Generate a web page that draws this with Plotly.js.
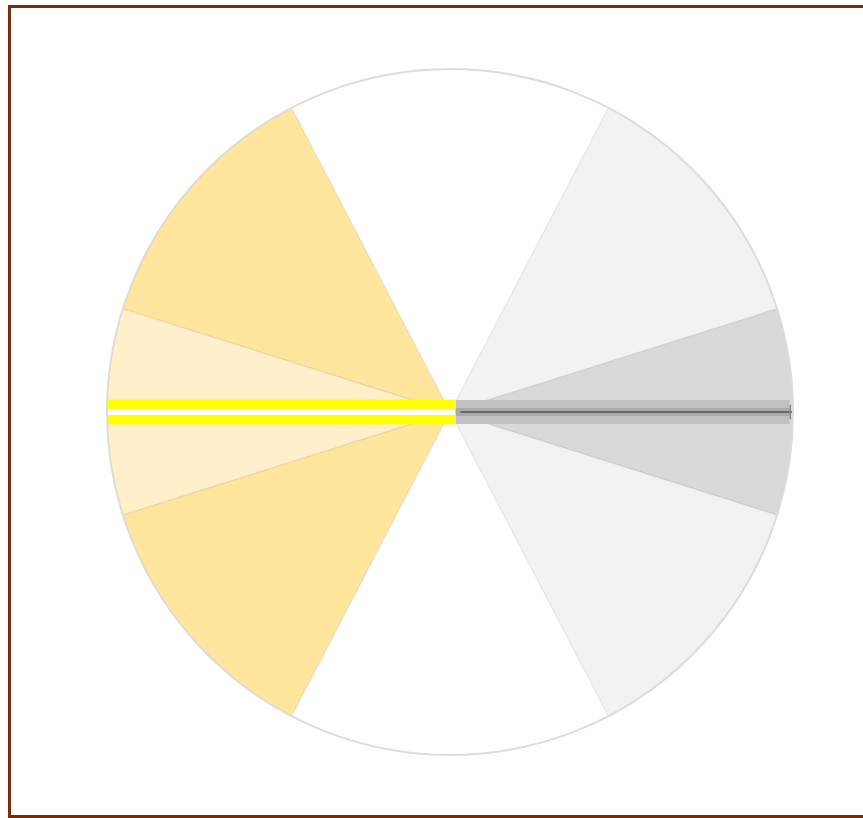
<!DOCTYPE html>
<html>
<head>
<meta charset="utf-8">
<script src="https://cdn.plot.ly/plotly-3.0.1.min.js"></script>
<style>
  html, body { margin: 0; padding: 0; background: #ffffff; overflow: hidden; }
  #chart { position: absolute; left: 0; top: 0; width: 863px; height: 818px; }
  #frame { position: absolute; left: 8px; top: 5px; width: 900px; height: 813px;
           border: 3px solid #7a2c0c; box-sizing: border-box; pointer-events: none; }
</style>
</head>
<body>
<div id="chart"></div>
<div id="frame"></div>
<script>
// Sector data (theta centre in degrees, width in degrees, radius)
const sectorTheta = [140, 180, 220, 40, 0, -40];
const sectorWidth = [45, 35, 45, 45, 35, 45];
const sectorR = [10, 10, 10, 10, 10, 10];
const sectorColors = ['#ffe69c', '#fff0cb', '#ffe69c', '#f2f2f2', '#d9d9d9', '#f2f2f2'];

// Yellow double bar on the left (theta 180)
const yellowR = [10, 0, 0.15];
const yellowTheta = [180, 180, 0];

// Grey band on the right (theta 0)
const greyR = [0.17, 9.9];
const greyTheta = [0, 0];
const needleR = [0.3, 10.05];
const needleTheta = [0, 0];
const capR = [9.92];
const capTheta = [0];

const traces = [
  {
    type: 'barpolar',
    r: sectorR, theta: sectorTheta, width: sectorWidth,
    marker: { color: sectorColors, line: { color: 'rgba(0,0,0,0.06)', width: 1.5 } },
    hoverinfo: 'none', showlegend: false
  },
  {
    type: 'scatterpolar', mode: 'lines',
    r: yellowR, theta: yellowTheta,
    line: { color: '#ffff00', width: 25 },
    hoverinfo: 'none', showlegend: false
  },
  {
    type: 'scatterpolar', mode: 'lines',
    r: yellowR, theta: yellowTheta,
    line: { color: '#ffffff', width: 6 },
    hoverinfo: 'none', showlegend: false
  },
  {
    type: 'scatterpolar', mode: 'lines',
    r: greyR, theta: greyTheta,
    line: { color: '#c0c0c0', width: 24 },
    hoverinfo: 'none', showlegend: false
  },
  {
    type: 'scatterpolar', mode: 'lines',
    r: greyR, theta: greyTheta,
    line: { color: '#aaaaaa', width: 8 },
    hoverinfo: 'none', showlegend: false
  },
  {
    type: 'scatterpolar', mode: 'lines',
    r: needleR, theta: needleTheta,
    line: { color: '#555555', width: 1.5 },
    hoverinfo: 'none', showlegend: false
  },
  {
    type: 'scatterpolar', mode: 'markers',
    r: capR, theta: capTheta,
    marker: { symbol: 'line-ns-open', size: 10, color: '#888888', line: { color: '#888888', width: 1.5 } },
    hoverinfo: 'none', showlegend: false
  }
];

const layout = {
  width: 863, height: 818,
  margin: { l: 107, r: 70, t: 69, b: 63 },
  paper_bgcolor: '#ffffff',
  showlegend: false,
  polar: {
    bgcolor: '#ffffff',
    bargap: 0,
    radialaxis: { range: [0, 10], visible: false, showgrid: false },
    angularaxis: {
      showline: true, linecolor: '#dcdcdc', linewidth: 2,
      showgrid: false, showticklabels: false, ticks: '',
      rotation: 0, direction: 'counterclockwise'
    }
  }
};

Plotly.newPlot('chart', traces, layout, { displayModeBar: false, staticPlot: true });
</script>
</body>
</html>
